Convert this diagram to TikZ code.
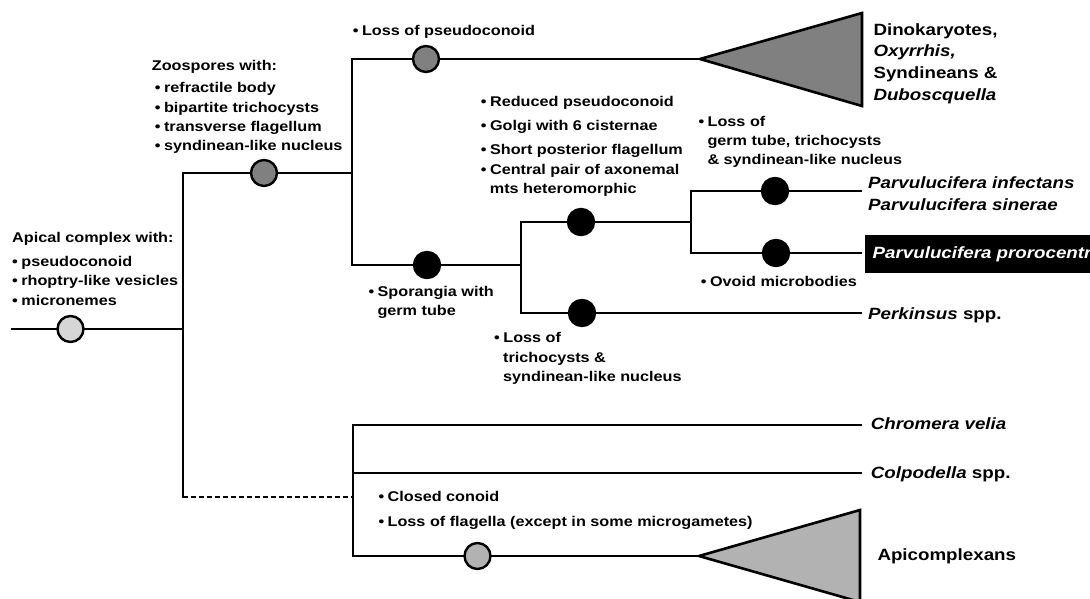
\documentclass[tikz,border=0pt]{standalone}
\usepackage{fontspec}
\setmainfont[FakeStretch=1.15]{Liberation Sans}
\usepackage{xcolor}
\definecolor{perkdark}{RGB}{128,128,128}
\definecolor{perkmid}{RGB}{178,178,178}
\definecolor{perklight}{RGB}{214,214,214}
\newcommand{\itm}{\textbullet\hspace{3.5pt}}
\newcommand{\cnt}{\hspace*{9pt}}

\begin{document}
\begin{tikzpicture}[x=1pt,y=-1pt,
      br/.style={line width=2.6pt,line cap=rect},
      mk/.style={circle,draw,line width=2.4pt,minimum size=26pt,inner sep=0pt},
      nt/.style={anchor=north west,inner sep=0pt,align=left,font=\bfseries\fontsize{14.1}{19.3}\selectfont},
      tx/.style={anchor=base west,inner sep=0pt,align=left,font=\bfseries\fontsize{16.3}{21.7}\selectfont}
    ]
    \useasboundingbox (0,0) rectangle (1090,598);

    \coordinate (base) at (12,329);
    \node[mk,fill=perklight] (m-apical) at (70.5,329) {};
    \coordinate (j-root) at (183,329);
    \coordinate (j-top) at (183,173);
    \coordinate (j-bot) at (183,497);
    \node[mk,fill=perkdark] (m-zoo) at (264,173) {};
    \coordinate (j-din) at (352,173);
    \coordinate (c-din) at (352,59);
    \node[mk,fill=perkdark] (m-pseudo) at (426,59) {};
    \coordinate (t-din) at (700,59);
    \coordinate (c-spo) at (352,265);
    \node[mk,fill=black] (m-spo) at (427,265) {};
    \coordinate (j-spo) at (521,265);
    \coordinate (c-par) at (521,222);
    \node[mk,fill=black] (m-par) at (581,222) {};
    \coordinate (j-par) at (691,222);
    \coordinate (c-inf) at (691,191);
    \node[mk,fill=black] (m-inf) at (775,191) {};
    \coordinate (e-inf) at (861,191);
    \coordinate (c-pro) at (691,253);
    \node[mk,fill=black] (m-pro) at (776,253) {};
    \coordinate (e-pro) at (861,253);
    \coordinate (c-pkn) at (521,313);
    \node[mk,fill=black] (m-pkn) at (582,313) {};
    \coordinate (e-pkn) at (861,313);
    \coordinate (c-dash) at (353,497);
    \coordinate (c-chr) at (353,425);
    \coordinate (e-chr) at (861,425);
    \coordinate (c-col) at (353,473);
    \coordinate (e-col) at (861,473);
    \coordinate (c-api) at (353,556);
    \node[mk,fill=perkmid] (m-api) at (477.5,556) {};
    \coordinate (t-api) at (699,556);

    \draw[br] (base) -- (m-apical) -- (j-root);
    \draw[br] (m-zoo) -- (j-top) -- (j-bot);
    \draw[br] (m-zoo) -- (j-din);
    \draw[br] (m-pseudo) -- (c-din) -- (c-spo) -- (m-spo);
    \draw[br] (m-pseudo) -- (t-din);
    \draw[br,line join=miter,fill=perkdark] (t-din) -- ++(162,-46) -- ++(0,93) -- cycle;
    \draw[br] (m-spo) -- (j-spo);
    \draw[br] (m-par) -- (c-par) -- (c-pkn) -- (m-pkn);
    \draw[br] (m-pkn) -- (e-pkn);
    \draw[br] (m-par) -- (j-par);
    \draw[br] (m-inf) -- (c-inf) -- (c-pro) -- (m-pro);
    \draw[br] (m-inf) -- (e-inf);
    \draw[br] (m-pro) -- (e-pro);
    \draw[br,line cap=butt,dash pattern=on 5pt off 3pt] (j-bot) -- (c-dash);
    \draw[br] (e-chr) -- (c-chr) -- (c-api) -- (m-api);
    \draw[br] (c-col) -- (e-col);
    \draw[br] (m-api) -- (t-api);
    \draw[br,line join=miter,fill=perkmid] (t-api) -- ++(161,-46) -- ++(0,92) -- cycle;

    \node[nt] (n-apical) at (12,232.5) {Apical complex with:\\[4.2pt]\itm pseudoconoid\\\itm rhoptry-like vesicles\\\itm micronemes};
    \node[nt] (n-zoo) at (151.7,60.5) {Zoospores with:\\[2.7pt]\hspace*{3pt}\itm refractile body\\\hspace*{3pt}\itm bipartite trichocysts\\\hspace*{3pt}\itm transverse flagellum\\\hspace*{3pt}\itm syndinean-like nucleus};
    \node[nt] (n-pseudo) at (352.7,25.5) {\itm Loss of pseudoconoid};
    \node[nt] (n-reduced) at (480.7,95.8) {\itm Reduced pseudoconoid\\[4.7pt]\itm Golgi with 6 cisternae\\[4.7pt]\itm Short posterior flagellum\\[1pt]\itm Central pair of axonemal\\\cnt mts heteromorphic};
    \node[nt] (n-germ) at (698.3,115.8) {\itm Loss of\\\cnt germ tube, trichocysts\\\cnt \& syndinean-like nucleus};
    \node[nt] (n-ovoid) at (700.7,276.5) {\itm Ovoid microbodies};
    \node[nt] (n-spor) at (368.3,285.8) {\itm Sporangia with\\\cnt germ tube};
    \node[nt] (n-trich) at (494,332.5) {\itm Loss of\\\cnt trichocysts \&\\\cnt syndinean-like nucleus};
    \node[nt] (n-conoid) at (378.3,491.5) {\itm Closed conoid\\[5pt]\itm Loss of flagella (except in some microgametes)};

    \node[tx,anchor=north west] (t-dino) at (873.3,23.2) {Dinokaryotes,\\\textit{Oxyrrhis,}\\Syndineans \&\\\textit{Duboscquella}};
    \node[tx,anchor=north west] (t-parv) at (868,176.5) {\textit{Parvulucifera infectans}\\\textit{Parvulucifera sinerae}};
    \node[tx,anchor=west,fill=black,text=white,minimum height=38pt,inner xsep=7.5pt,inner ysep=0pt] (t-pro) at (865,254) {\textit{Parvulucifera prorocentri}};
    \node[tx] (t-pkn) at (868,319) {\textit{Perkinsus} spp.};
    \node[tx] (t-chr) at (870.7,429) {\textit{Chromera velia}};
    \node[tx] (t-col) at (870.7,478.3) {\textit{Colpodella} spp.};
    \node[tx] (t-api) at (877.3,560) {Apicomplexans};
  \end{tikzpicture}
\end{document}
